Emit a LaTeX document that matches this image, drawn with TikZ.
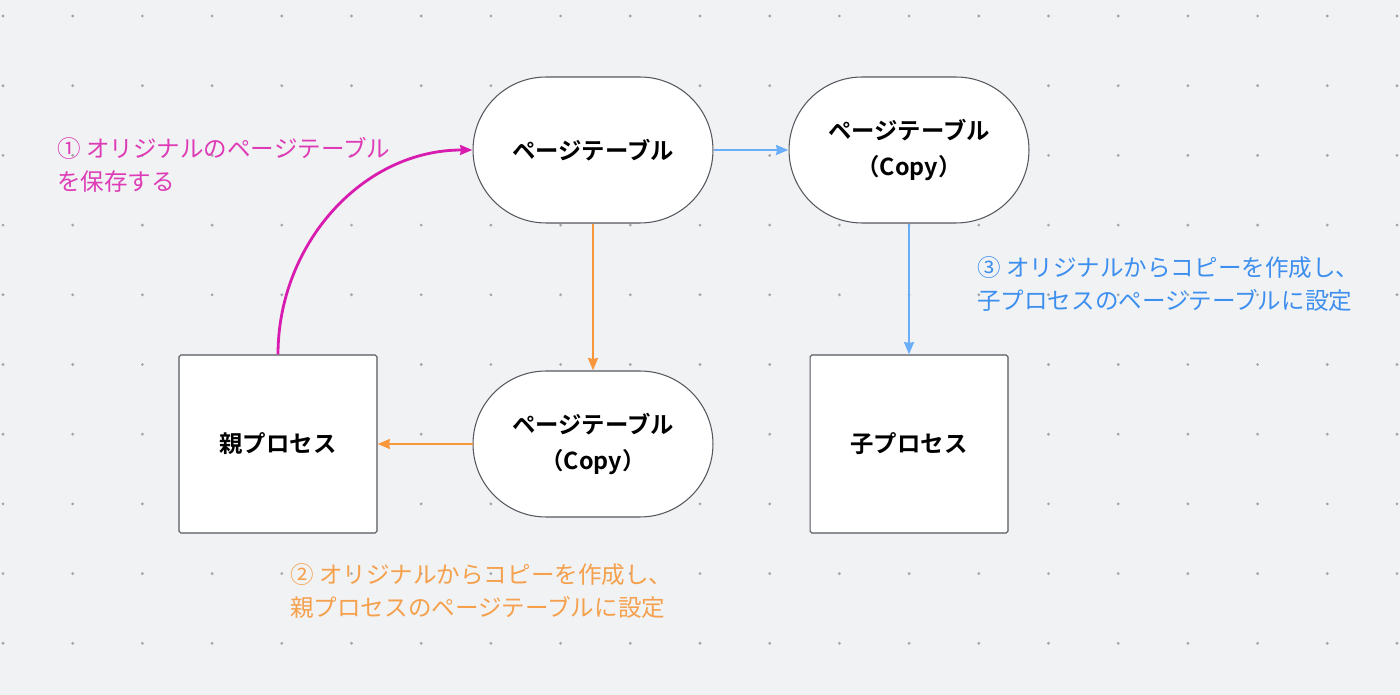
\documentclass[tikz,border=0pt]{standalone}
\usepackage{fontspec}
\setmainfont{Noto Sans CJK JP}[BoldFont={Noto Sans CJK JP Bold}]
\usetikzlibrary{arrows.meta}
\definecolor{bggray}{HTML}{F1F2F4}
\definecolor{dotgray}{HTML}{A3A7AD}
\definecolor{linegray}{HTML}{55585D}
\definecolor{pinkline}{HTML}{D81CAF}
\definecolor{pinktext}{HTML}{DE3CB6}
\definecolor{blueline}{HTML}{6AADF8}
\definecolor{bluetext}{HTML}{3D8FEF}
\definecolor{orangeline}{HTML}{F7963A}
\definecolor{orangetext}{HTML}{F5A04C}
\begin{document}
\begin{tikzpicture}[x=0.02cm, y=-0.02cm,
    pill/.style={draw=linegray, fill=white, line width=0.6pt, rounded corners=1.46cm,
        minimum width=4.8cm, minimum height=2.92cm, align=center,
        font=\bfseries\fontsize{13.3}{20}\selectfont},
    proc/.style={draw=linegray, fill=white, line width=0.6pt, rounded corners=1pt,
        minimum width=3.96cm, minimum height=3.56cm,
        font=\bfseries\fontsize{13.3}{20}\selectfont},
    note/.style={anchor=west, align=left, inner sep=0pt, font=\fontsize{13.4}{19}\selectfont},
    flow/.style={-{Stealth[length=7pt, width=5.5pt, inset=0.5pt]}, line width=1.6pt}]
    \fill[bggray] (0, 0) rectangle (1400, 695);
    \foreach \i in {0,...,20}
        \foreach \j in {0,...,9}
            \fill[dotgray] ({3 + 69.7*\i}, {16 + 69.7*\j}) circle (0.9pt);

    \node[pill] (table) at (593, 150) {ページテーブル};
    \node[pill] (copyc) at (909, 150) {ページテーブル\\（Copy）};
    \node[pill] (copyp) at (593, 444) {ページテーブル\\（Copy）};
    \node[proc] (parent) at (278, 444) {親プロセス};
    \node[proc] (child) at (909, 444) {子プロセス};

    \draw[flow, pinkline] (parent.north) to[out=90, in=180] (table.west);
    \draw[flow, orangeline] (table.south) -- (copyp.north);
    \draw[flow, orangeline] (copyp.west) -- (parent.east);
    \draw[flow, blueline] (table.east) -- (copyc.west);
    \draw[flow, blueline] (copyc.south) -- (child.north);

    \node[note, text=pinktext] (note1) at (57, 165) {① オリジナルのページテーブル\\を保存する};
    \node[note, text=orangetext] (note2) at (290, 591) {② オリジナルからコピーを作成し、\\親プロセスのページテーブルに設定};
    \node[note, text=bluetext] (note3) at (977, 284) {③ オリジナルからコピーを作成し、\\子プロセスのページテーブルに設定};
\end{tikzpicture}
\end{document}
